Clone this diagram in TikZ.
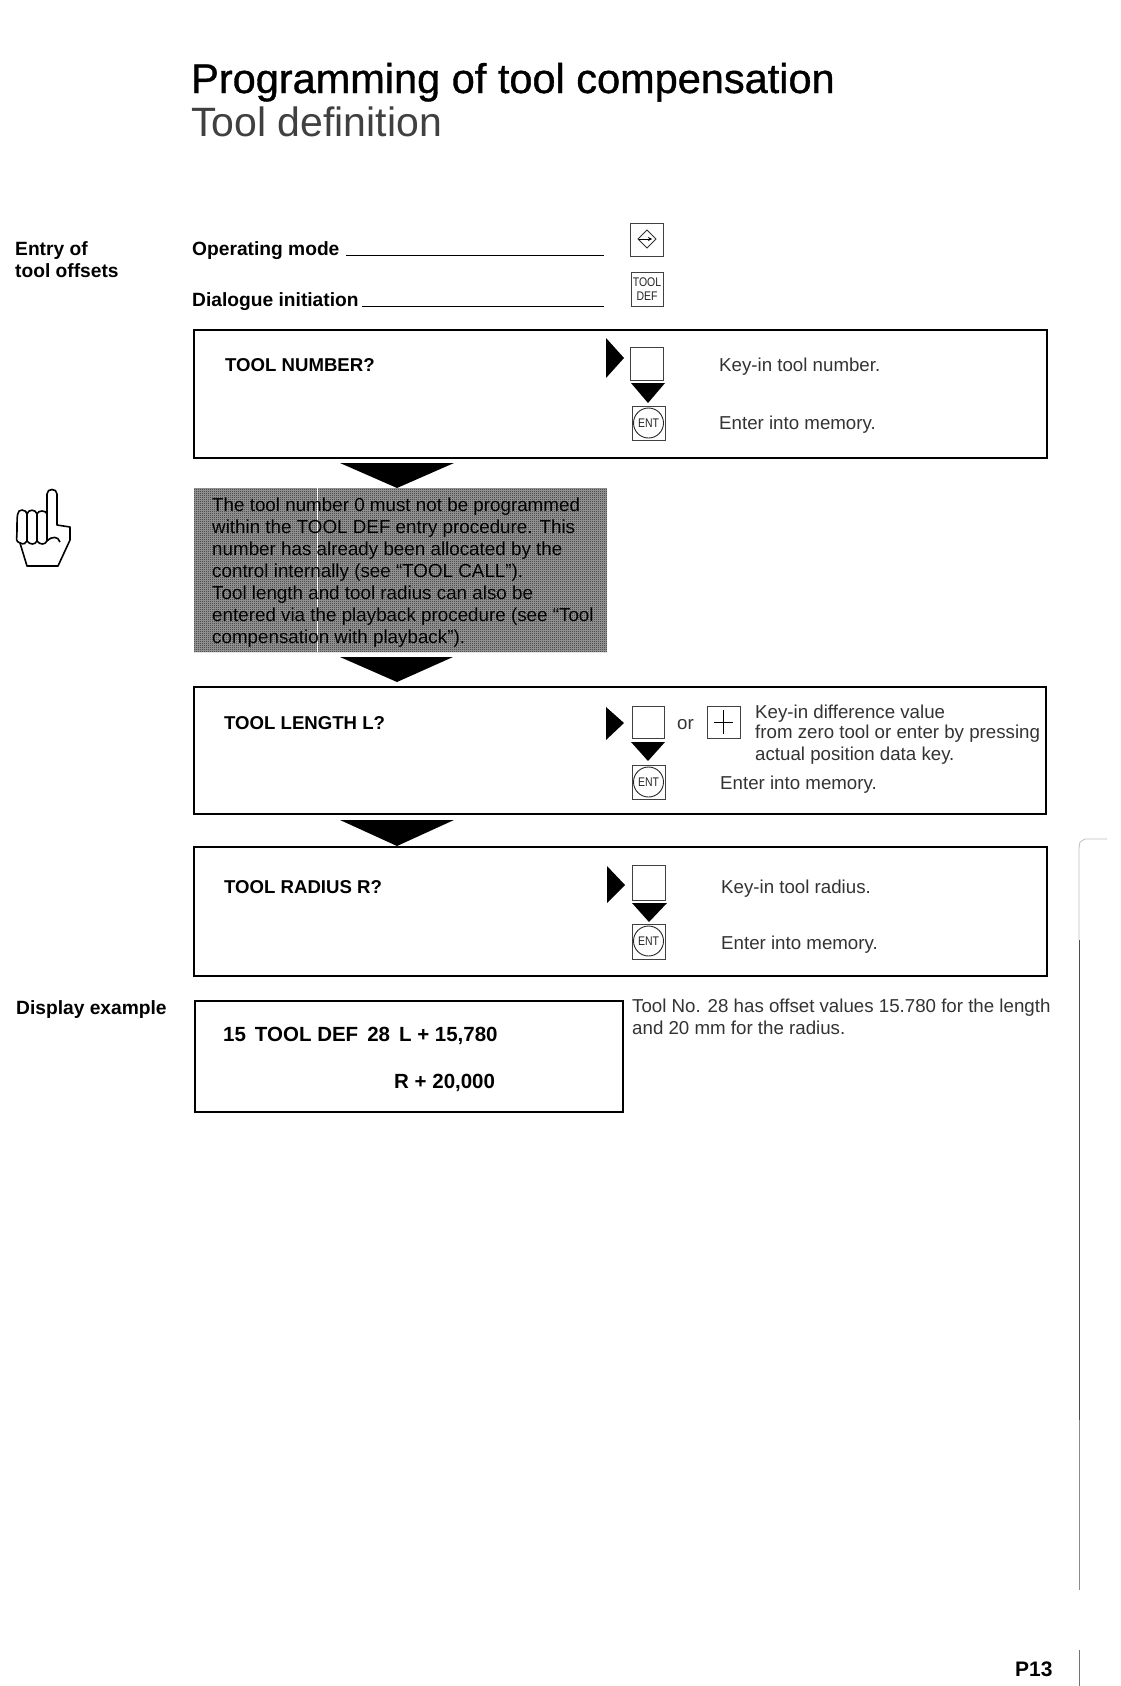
\documentclass[tikz,border=0pt]{standalone}
\usepackage{fontspec}
\usetikzlibrary{arrows.meta,patterns}
\setmainfont{Liberation Sans}
\newfontfamily\medfont[RawFeature={embolden=0.9}]{Liberation Sans}
\pgfdeclarepatternformonly{scandither}{\pgfqpoint{0pt}{0pt}}{\pgfqpoint{2pt}{2pt}}{\pgfqpoint{2pt}{2pt}}{%
  \pgfpathrectangle{\pgfqpoint{0pt}{0pt}}{\pgfqpoint{1pt}{1pt}}%
  \pgfpathrectangle{\pgfqpoint{1pt}{1pt}}{\pgfqpoint{1pt}{1pt}}%
  \pgfusepath{fill}}
\tikzset{
  x=1pt,y=-1pt,
  body/.style={inner sep=0,anchor=west,font=\fontsize{18.7}{21}\selectfont,text=black!80},
  strong/.style={inner sep=0,anchor=west,font=\fontsize{19.2}{22}\selectfont\bfseries},
  query/.style={inner sep=0,anchor=west,font=\fontsize{18.6}{22}\selectfont\bfseries},
  dispstyle/.style={inner sep=0,anchor=west,font=\fontsize{20.5}{23}\selectfont\bfseries},
  framebox/.style={draw=black,line width=1.1pt},
  keybox/.style={draw=black!75,line width=.9pt,fill=white},
  rulesty/.style={draw=black,line width=.9pt},
  tip/.style={fill=black,draw=none},
  keytext/.style={inner sep=0,font=\fontsize{12.5}{14}\selectfont,text=black!85},
}
\newcommand{\narrowkey}[1]{\scalebox{.84}[1]{#1}}
\begin{document}
\begin{tikzpicture}
\useasboundingbox[fill=white] (0,0) rectangle (1121,1686);
% title
\node[inner sep=0,anchor=base west,font=\fontsize{41.5}{44}\medfont] (title) at (191,93) {Programming of tool compensation};
\node[inner sep=0,anchor=base west,font=\fontsize{41}{44}\selectfont,text=black!75] (subtitle) at (191,136) {Tool definition};
% left labels
\node[strong] (entry1) at (15,251) {Entry of};
\node[strong] (entry2) at (15,271) {tool offsets};
\node[strong] (disp) at (16,1010) {Display example};
% header rows
\node[strong] (opmode) at (192,251) {Operating mode};
\node[strong] (dialog) at (192,302) {Dialogue initiation};
\coordinate (opR) at (604,255); \coordinate (opL) at (346,255);
\coordinate (diR) at (604,306); \coordinate (diL) at (362,306);
\draw[rulesty] (opL) -- (opR);
\draw[rulesty] (diL) -- (diR);
% operating mode key
\draw[keybox] (630,223) rectangle (663,256);
\draw[line width=.8pt,draw=black!80] (647,230) -- (656,239) -- (647,248) -- (638,239) -- cycle;
\draw[line width=.9pt,-{Stealth[length=4pt,width=4pt]}] (639,239) -- (652,239);
% tool def key
\draw[keybox] (631,272) rectangle (663,306);
\node[keytext] (tk1) at (647,282) {\narrowkey{TOOL}};
\node[keytext] (tk2) at (647,296) {\narrowkey{DEF}};
% box 1
\draw[framebox] (194,330) rectangle (1047,458);
\node[query] (q1) at (225,365) {TOOL NUMBER?};
\fill[tip] (606,338) -- (624,358) -- (606,378) -- cycle;
\draw[keybox] (630,347) rectangle (663,380);
\fill[tip] (631,383) -- (665,383) -- (648,403) -- cycle;
\draw[keybox] (632,406) rectangle (665,440);
\draw[line width=.9pt,draw=black!85] (648.5,423) circle (15);
\node[keytext] (e1) at (648.5,423) {\narrowkey{ENT}};
\node[body] (t1a) at (719,367) {Key-in tool number.};
\node[body] (t1b) at (719,425) {Enter into memory.};
% big arrow 1
\fill[tip] (340,463) -- (454,463) -- (397,488) -- cycle;
% note
\fill[black!38] (194,488) rectangle (607,652);
\fill[pattern=scandither,pattern color=black!85] (194,488) rectangle (607,652);
\draw[white,line width=1pt] (317,488) -- (317,652);
\node[inner sep=0,anchor=north west,align=left,font=\fontsize{18.8}{22}\selectfont,text=black] (note) at (212,498) {The tool number 0 must not be programmed\\
within the TOOL DEF entry procedure. This\\
number has already been allocated by the\\
control internally (see ``TOOL CALL'').\\
Tool length and tool radius can also be\\
entered via the playback procedure (see ``Tool\\
compensation with playback'').};
% hand
\draw[line width=1.6pt,line join=round,fill=white]
  (47,513) -- (47,494) .. controls (47,488) and (57,488) .. (57,494) -- (57,525) -- (70,527)
  -- (70,540) -- (58,566) -- (27,566) -- (20,543)
  .. controls (15,541) and (17,540) .. (17,530) .. controls (17,515) and (17,510) .. (22,510)
  .. controls (25,510) and (27,512) .. (27,514) .. controls (28,509) and (36,509) .. (37,514)
  .. controls (38,510) and (46,510) .. (47,514);
\draw[line width=1.6pt] (27,514) -- (27,541) (37,514) -- (37,541) (47,513) -- (47,541);
\draw[line width=1.6pt] (20,543) .. controls (24,545) and (26,543) .. (27,541) .. controls (30,545) and (35,545) .. (37,541) .. controls (40,545) and (45,545) .. (47,541) .. controls (52,536) and (58,536) .. (60,542);
% big arrow 2
\fill[tip] (340,657) -- (453,657) -- (397,682) -- cycle;
% box 2
\draw[framebox] (194,687) rectangle (1046,814);
\node[query] (q2) at (224,723) {TOOL LENGTH L?};
\fill[tip] (606,707) -- (624,723) -- (606,740) -- cycle;
\draw[keybox] (632,706) rectangle (664,738);
\fill[tip] (631,742) -- (665,742) -- (648,761) -- cycle;
\draw[keybox] (632,765) rectangle (665,799);
\draw[line width=.9pt,draw=black!85] (648.5,782) circle (15);
\node[keytext] (e2) at (648.5,782) {\narrowkey{ENT}};
\node[body] (orw) at (677,725) {or};
\draw[keybox] (707,706) rectangle (740,738);
\draw[line width=1pt] (714,722) -- (733,722) (723.5,710) -- (723.5,734);
\node[body] (t2a) at (755,714) {Key-in difference value};
\node[body] (t2b) at (755,734) {from zero tool or enter by pressing};
\node[body] (t2c) at (755,756) {actual position data key.};
\node[body] (t2d) at (720,785) {Enter into memory.};
% big arrow 3
\fill[tip] (340,820) -- (454,820) -- (397,846) -- cycle;
% box 3
\draw[framebox] (194,847) rectangle (1047,976);
\node[query] (q3) at (224,887) {TOOL RADIUS R?};
\fill[tip] (607,866) -- (625,885) -- (607,903) -- cycle;
\draw[keybox] (632,865) rectangle (665,900);
\fill[tip] (632,903) -- (667,903) -- (649,922) -- cycle;
\draw[keybox] (632,924) rectangle (665,959);
\draw[line width=.9pt,draw=black!85] (648.5,941) circle (15);
\node[keytext] (e3) at (648.5,941) {\narrowkey{ENT}};
\node[body] (t3a) at (721,889) {Key-in tool radius.};
\node[body] (t3b) at (721,945) {Enter into memory.};
% display
\draw[framebox] (195,1001) rectangle (623,1112);
\node[dispstyle] (d1) at (223,1036) {15\hspace{9pt}TOOL DEF\hspace{9pt}28\hspace{9pt}L + 15,780};
\node[dispstyle] (d2) at (394,1083) {R + 20,000};
\node[body] (n1) at (632,1008) {Tool No. 28 has offset values 15.780 for the length};
\node[body] (n2) at (632,1028) {and 20 mm for the radius.};
% page
\node[inner sep=0,anchor=west,font=\fontsize{21}{24}\selectfont\bfseries] (page) at (1015,1669) {P13};
% scan edge
\draw[black!25,line width=.8pt] (1107,839) -- (1085,839) -- (1080,842) -- (1079,848) -- (1079,940);
\draw[black!70,line width=.9pt] (1079,940) -- (1079,1420);
\draw[black!45,line width=.9pt] (1079,1420) -- (1079,1590);
\draw[black!55,line width=.9pt] (1079,1650) -- (1079,1686);
\end{tikzpicture}
\end{document}
